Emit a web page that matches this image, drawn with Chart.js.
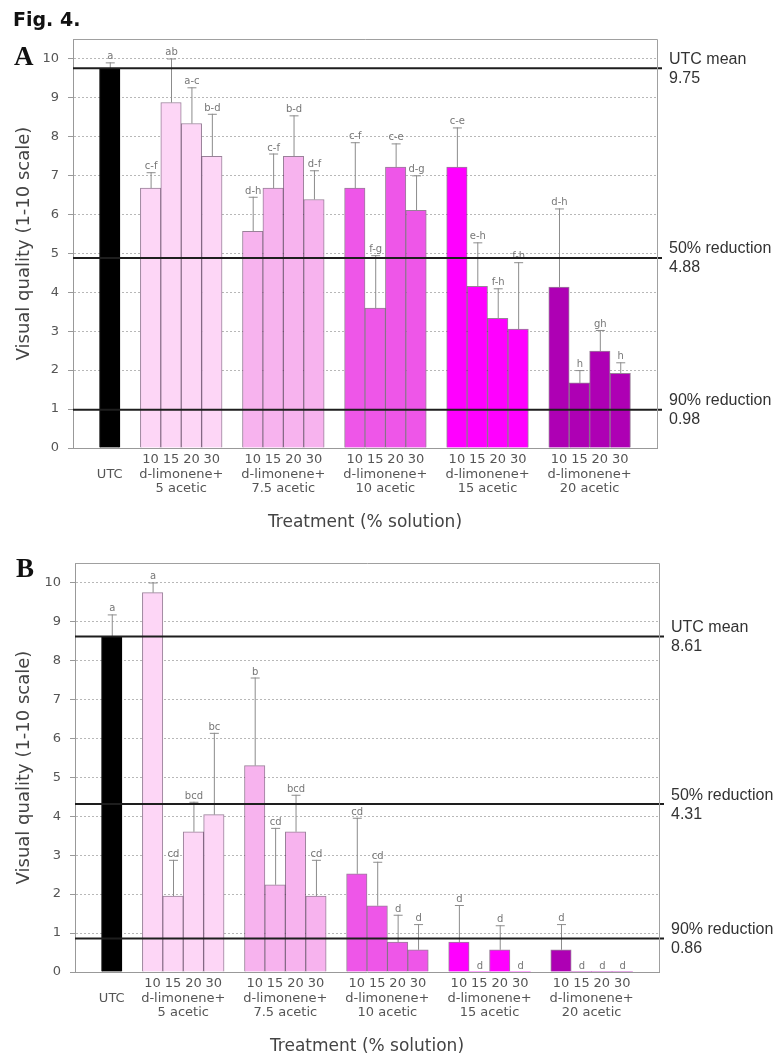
<!DOCTYPE html>
<html>
<head>
<meta charset="utf-8">
<script src="https://cdn.jsdelivr.net/npm/chart.js@4.4.1/dist/chart.umd.min.js"></script>
<style>
html,body{margin:0;padding:0;background:#fff;width:775px;height:1057px;overflow:hidden;}
.wrap{position:absolute;left:0;width:775px;}
#wa{top:0;height:535px;}
#wb{top:535px;height:522px;}
</style>
</head>
<body>
<div id="wa" class="wrap"><canvas id="ca"></canvas></div>
<div id="wb" class="wrap"><canvas id="cb"></canvas></div>
<script>
// ---------- data ----------
const concentrations = ['10', '15', '20', '30'];
const acidGroups = ['5 acetic', '7.5 acetic', '10 acetic', '15 acetic', '20 acetic'];
const controlLabel = 'UTC';
const groupColors = ['#FDD6F6', '#F7B3EE', '#EE56E8', '#FF00FF', '#AE00B4'];
const controlColor = '#000000';
const yTickValues = [0, 1, 2, 3, 4, 5, 6, 7, 8, 9, 10];

// Panel A (order: UTC, then 4 concentrations for each acetic group)
const meansA = [9.75,
  6.67, 8.87, 8.33, 7.49,
  5.56, 6.67, 7.49, 6.38,
  6.67, 3.59, 7.21, 6.10,
  7.21, 4.15, 3.33, 3.05,
  4.13, 1.67, 2.49, 1.92];
const errTopA = [9.90,
  7.08, 10.0, 9.26, 8.58,
  6.45, 7.56, 8.54, 7.13,
  7.85, 4.95, 7.82, 7.00,
  8.23, 5.28, 4.10, 4.77,
  6.15, 2.00, 3.03, 2.20];
const lettersA = ['a',
  'c-f', 'ab', 'a-c', 'b-d',
  'd-h', 'c-f', 'b-d', 'd-f',
  'c-f', 'f-g', 'c-e', 'd-g',
  'c-e', 'e-h', 'f-h', 'f-h',
  'd-h', 'h', 'gh', 'h'];
const refValuesA = [9.75, 4.88, 0.98];

// Panel B
const meansB = [8.61,
  9.74, 1.95, 3.60, 4.04,
  5.30, 2.24, 3.60, 1.95,
  2.52, 1.70, 0.77, 0.57,
  0.77, 0, 0.57, 0,
  0.57, 0, 0, 0];
const errTopB = [9.18,
  10.0, 2.88, 4.37, 6.14,
  7.56, 3.70, 4.55, 2.88,
  3.96, 2.83, 1.47, 1.23,
  1.72, 0, 1.20, 0,
  1.23, 0, 0, 0];
const lettersB = ['a',
  'a', 'cd', 'bcd', 'bc',
  'b', 'cd', 'bcd', 'cd',
  'cd', 'cd', 'd', 'd',
  'd', 'd', 'd', 'd',
  'd', 'd', 'd', 'd'];
const refValuesB = [8.61, 4.31, 0.86];

const refNames = ['UTC mean', '50% reduction', '90% reduction'];

// ---------- derived ----------
const FONT = 'DejaVu Sans';
const barPositions = [0];
const barTickLabels = [''];
const barColors = [controlColor];
acidGroups.forEach((g, gi) => {
  concentrations.forEach((c, ci) => {
    barPositions.push(2 + gi * 5 + ci);
    barTickLabels.push(c);
    barColors.push(groupColors[gi]);
  });
});
const groupCenters = [0].concat(acidGroups.map((g, gi) => 3.5 + gi * 5));
const groupTickLabels = [controlLabel].concat(acidGroups.map(g => ['d-limonene+', g]));

function extrasPlugin(p) {
  return {
    id: 'extras' + p.name,
    afterDatasetsDraw(chart) {
      const ctx = chart.ctx;
      const ys = chart.scales.y;
      const ca = chart.chartArea;
      const meta = chart.getDatasetMeta(0);
      ctx.save();
      // error bars and letters
      meta.data.forEach((bar, i) => {
        const x = bar.x;
        const yb = ys.getPixelForValue(p.means[i]);
        const yt = ys.getPixelForValue(p.errTop[i]);
        ctx.strokeStyle = '#8c8c8c';
        ctx.lineWidth = 1;
        if (p.errTop[i] > p.means[i]) {
          ctx.beginPath();
          ctx.moveTo(x + 0.5, yb);
          ctx.lineTo(x + 0.5, yt);
          ctx.moveTo(x - 4, yt + 0.5);
          ctx.lineTo(x + 5, yt + 0.5);
          ctx.stroke();
        }
        ctx.fillStyle = '#777';
        ctx.font = '10px "' + FONT + '"';
        ctx.textAlign = 'center';
        ctx.textBaseline = 'alphabetic';
        ctx.fillText(p.letters[i], x + 0.5, yt - 3);
      });
      // reference lines
      p.refs.forEach((v, i) => {
        const y = ys.getPixelForValue(v);
        ctx.strokeStyle = '#1e1e1e';
        ctx.lineWidth = 2;
        ctx.beginPath();
        ctx.moveTo(ca.left, y);
        ctx.lineTo(ca.right + 5, y);
        ctx.stroke();
        ctx.fillStyle = '#333';
        ctx.font = '16px "Liberation Sans"';
        ctx.textAlign = 'left';
        ctx.textBaseline = 'middle';
        ctx.fillText(refNames[i], ca.right + 12, y - 9);
        ctx.fillText(v.toFixed(2), ca.right + 12, y + 10);
      });
      ctx.restore();
    },
    afterDraw(chart) {
      const ctx = chart.ctx;
      const ca = chart.chartArea;
      ctx.save();
      ctx.strokeStyle = '#a0a0a0';
      ctx.lineWidth = 1;
      ctx.beginPath();
      ctx.moveTo(ca.left, ca.top + 0.5);
      ctx.lineTo(ca.right + 0.5, ca.top + 0.5);
      ctx.lineTo(ca.right + 0.5, ca.bottom);
      ctx.stroke();
      ctx.fillStyle = '#111';
      ctx.textAlign = 'left';
      ctx.textBaseline = 'alphabetic';
      if (p.fig) {
        ctx.font = 'bold 19px "' + FONT + '"';
        ctx.fillText(p.fig, 13, 26);
      }
      ctx.font = 'bold 27px "Liberation Serif"';
      ctx.fillText(p.panel, p.panelX, p.panelY);
      ctx.restore();
    }
  };
}

function makeChart(canvasId, p) {
  const data = barPositions.map((x, i) => ({ x: x, y: p.means[i] }));
  return new Chart(document.getElementById(canvasId), {
    type: 'bar',
    data: {
      datasets: [{
        data: data,
        backgroundColor: barColors,
        borderColor: barColors.map((c, i) => i === 0 ? '#000' : 'rgba(70,25,70,0.55)'),
        borderWidth: p.means.map(v => v > 0 ? 1 : 0),
        borderSkipped: 'bottom',
        barPercentage: 1,
        categoryPercentage: 1
      }]
    },
    options: {
      responsive: true,
      maintainAspectRatio: false,
      animation: false,
      events: [],
      layout: { padding: { left: 0, right: p.padRight, top: p.padTop, bottom: 0 } },
      plugins: { legend: { display: false }, tooltip: { enabled: false } },
      scales: {
        x: {
          type: 'linear', axis: 'x', position: 'bottom', weight: 1,
          min: -1.8, max: 26.8, offset: false,
          afterBuildTicks: ax => { ax.ticks = barPositions.map(v => ({ value: v })); },
          ticks: {
            autoSkip: false, maxRotation: 0, minRotation: 0, padding: 4,
            font: { family: FONT, size: 13 }, color: '#555',
            callback: (v, i) => barTickLabels[i]
          },
          grid: { display: false, drawTicks: false, offset: false },
          border: { display: true, color: '#999', width: 1 },
          afterFit: ax => { ax.height = 18; }
        },
        x2: {
          type: 'linear', axis: 'x', position: 'bottom', weight: 2,
          min: -1.8, max: 26.8, offset: false,
          afterBuildTicks: ax => { ax.ticks = groupCenters.map(v => ({ value: v })); },
          ticks: {
            autoSkip: false, maxRotation: 0, minRotation: 0, padding: 2,
            font: { family: FONT, size: 13, lineHeight: 1.05 }, color: '#555',
            callback: (v, i) => groupTickLabels[i]
          },
          grid: { display: false, drawTicks: false, offset: false },
          border: { display: false },
          title: {
            display: true, text: 'Treatment (% solution)',
            font: { family: FONT, size: 17 }, color: '#444',
            padding: { top: 0, bottom: p.titlePadBottom }
          },
          afterFit: ax => { ax.height = p.groupAxisHeight; }
        },
        y: {
          type: 'linear', position: 'left', min: 0, max: 10.5,
          afterBuildTicks: ax => { ax.ticks = yTickValues.map(v => ({ value: v })); },
          ticks: { font: { family: FONT, size: 13 }, color: '#555', padding: 9 },
          grid: { color: '#b8b8b8', lineWidth: 1, tickLength: 5, tickColor: '#999', tickBorderDash: [] },
          border: { display: true, color: '#999', width: 1, dash: [2, 2] },
          title: {
            display: true, text: 'Visual quality (1-10 scale)',
            font: { family: FONT, size: 18 }, color: '#444',
            padding: { top: 14, bottom: 0 }
          },
          afterFit: ax => { ax.width = p.yWidth; }
        }
      }
    },
    plugins: [extrasPlugin(p)]
  });
}

makeChart('ca', {
  name: 'A', means: meansA, errTop: errTopA, letters: lettersA, refs: refValuesA,
  padRight: 118, padTop: 39, yWidth: 73, groupAxisHeight: 69, titlePadBottom: 2,
  fig: 'Fig. 4.', panel: 'A', panelX: 14, panelY: 65
});
makeChart('cb', {
  name: 'B', means: meansB, errTop: errTopB, letters: lettersB, refs: refValuesB,
  padRight: 116, padTop: 28, yWidth: 75, groupAxisHeight: 67, titlePadBottom: 0,
  fig: null, panel: 'B', panelX: 16, panelY: 42
});
</script>
</body>
</html>
